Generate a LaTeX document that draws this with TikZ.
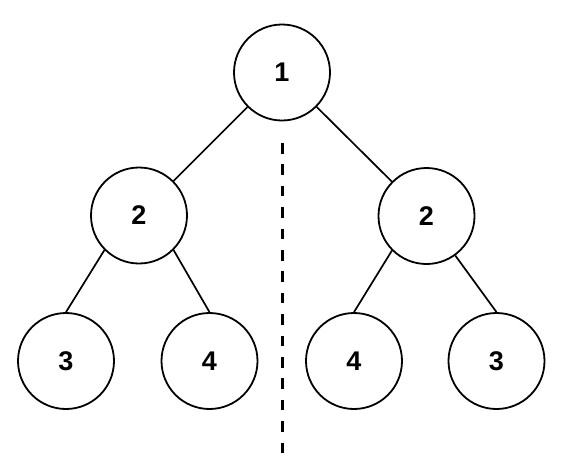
\documentclass[tikz,border=0pt]{standalone}
\usepackage{fontspec}
\setmainfont{Liberation Sans}
\begin{document}
\begin{tikzpicture}[x=1pt,y=-1pt,
  tnode/.style={draw=black,circle,line width=1.8pt,minimum size=96pt,inner sep=0pt,
    font=\fontsize{27}{32}\selectfont\bfseries,fill=white},
  edge/.style={draw=black,line width=1.7pt},
  mirror/.style={draw=black,line width=3pt,dash pattern=on 10.5pt off 10.9pt}]
\useasboundingbox (0,0) rectangle (587,469);
\node[tnode] (r) at (282,72.5) {1};
\node[tnode] (l2) at (139,215.5) {2};
\node[tnode] (r2) at (426.5,216) {2};
\node[tnode] (a) at (66,361) {3};
\node[tnode] (b) at (209.5,361) {4};
\node[tnode] (c) at (354,361) {4};
\node[tnode] (d) at (496.5,361) {3};
\coordinate (mt) at (282,143);
\coordinate (mb) at (282,457);
\draw[mirror] (mt) -- (mb);
\draw[edge] (r) -- (l2);
\draw[edge] (r) -- (r2);
\draw[edge] (l2.south west) -- (a.north);
\draw[edge] (l2.south east) -- (b.north);
\draw[edge] (r2.south west) -- (c.north);
\draw[edge] (r2) -- (d.north);
\end{tikzpicture}
\end{document}
